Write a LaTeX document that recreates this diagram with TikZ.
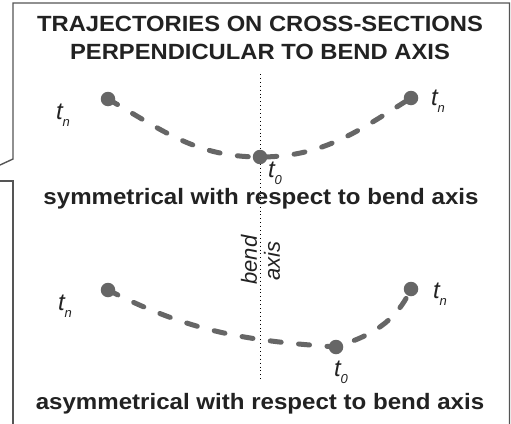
\documentclass[tikz,border=0pt]{standalone}
\usepackage{fontspec}
\setmainfont{Liberation Sans}
\setsansfont{Liberation Sans}
\newfontfamily\widesans[FakeStretch=1.08]{Liberation Sans}
\newcommand{\tsub}[1]{t\raisebox{-0.28em}{\fontsize{13}{13}\selectfont #1}}
\begin{document}
\begin{tikzpicture}[x=1pt,y=1pt,
  dotnode/.style={circle,fill=dotgray,inner sep=0pt,minimum size=14.5pt},
  traj/.style={draw=dotgray,line width=5pt,line cap=round,dash pattern=on 11pt off 17.5pt},
  frame/.style={draw=framegray,line width=1.4pt},
  lbl/.style={font=\itshape\fontsize{24}{24}\selectfont,text=txtgray,inner sep=0pt},
  head/.style={font=\widesans\bfseries\fontsize{22}{28}\selectfont,text=txtgray,align=center,inner sep=0pt},
  capt/.style={font=\widesans\bfseries\fontsize{22.3}{23}\selectfont,text=txtgray,inner sep=0pt},
  axislbl/.style={font=\itshape\fontsize{22}{22}\selectfont,text=txtgray,inner sep=0pt,rotate=90}
]
\definecolor{dotgray}{HTML}{666666}
\definecolor{framegray}{HTML}{555555}
\definecolor{txtgray}{HTML}{222222}
\useasboundingbox (0,0) rectangle (511,-423);
\fill[white] (0,0) rectangle (511,-423);
% frame (callout)
\draw[frame] (0,-165) -- (13,-159) -- (13,-3) -- (509.5,-3) -- (509.5,-425);
\draw[frame] (0,-181) -- (13,-181) -- (13,-425);
% title
\node[head] (title) at (260,-38) {TRAJECTORIES ON CROSS-SECTIONS\\PERPENDICULAR TO BEND AXIS};
% bend axis
\coordinate (axtop) at (260,-74);
\coordinate (axbot) at (260,-382);
\draw[black,line width=0.9pt,dash pattern=on 0.9pt off 3pt] (axtop) -- (axbot);
\node[axislbl] (bend) at (249,-260) {bend};
\node[axislbl] (axis) at (272,-261) {axis};
% upper trajectory
\node[dotnode] (L1) at (108,-99) {};
\node[dotnode] (C1) at (260,-157) {};
\node[dotnode] (R1) at (411,-98) {};
\draw[traj] (L1.center) to[out=-30,in=180] (C1.center) to[out=0,in=-148] (R1.center);
\node[lbl] (tL1) at (63,-115) {\tsub{n}};
\node[lbl] (tR1) at (438,-101) {\tsub{n}};
\node[lbl] (tC1) at (275,-173.5) {\tsub{0}};
\node[capt] (cap1) at (261,-199) {symmetrical with respect to bend axis};
% lower trajectory
\node[dotnode] (L2) at (108,-290) {};
\node[dotnode] (C2) at (336,-347) {};
\node[dotnode] (R2) at (411,-289) {};
\draw[traj] (L2.center) to[out=-27,in=176] (C2.center) to[out=18,in=-115] (R2.center);
\node[lbl] (tL2) at (65,-306) {\tsub{n}};
\node[lbl] (tR2) at (440,-294) {\tsub{n}};
\node[lbl] (tC2) at (341,-372) {\tsub{0}};
\node[capt] (cap2) at (260,-404) {asymmetrical with respect to bend axis};
\end{tikzpicture}
\end{document}
